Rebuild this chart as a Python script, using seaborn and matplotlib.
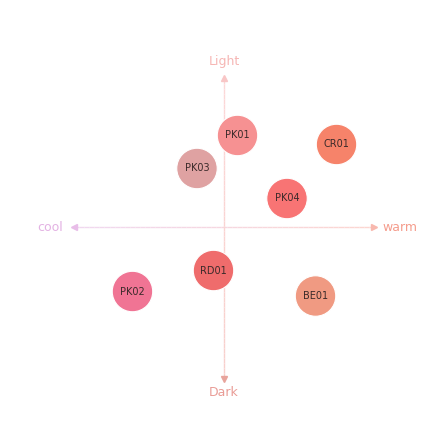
import numpy as np
import pandas as pd
import matplotlib
matplotlib.use("Agg")
import matplotlib.pyplot as plt
import seaborn as sns
from matplotlib.collections import LineCollection
from matplotlib.colors import to_rgb

# shade data: warmth (x) vs lightness (y)
shades = ["PK01", "CR01", "PK03", "PK04", "RD01", "PK02", "BE01"]
warmth = [0.9, 7.5, -1.8, 4.2, -0.7, -6.1, 6.1]
lightness = [6.1, 5.5, 3.9, 1.9, -2.9, -4.3, -4.6]
colors = ["#f69192", "#f6836a", "#dfa2a2", "#f87474", "#ef6c6c", "#f07494", "#f09a82"]

df = pd.DataFrame({"shade": shades, "warmth": warmth, "lightness": lightness})

sns.set_style("white")
plt.rcParams['font.family'] = ['DejaVu Sans']

fig = plt.figure(figsize=(4.3, 4.3), dpi=100)
ax = fig.add_axes([0, 0, 1, 1])


def grad_line(p0, p1, c0, c1, n=60):
    xs = np.linspace(p0[0], p1[0], n)
    ys = np.linspace(p0[1], p1[1], n)
    pts = np.array([xs, ys]).T.reshape(-1, 1, 2)
    segs = np.concatenate([pts[:-1], pts[1:]], axis=1)
    a, b = np.array(to_rgb(c0)), np.array(to_rgb(c1))
    cols = [a + (b - a) * t for t in np.linspace(0, 1, n - 1)]
    ax.add_collection(LineCollection(segs, colors=cols, linewidths=1.0, zorder=1))


# axes with arrows
grad_line((-10.0, 0), (10.0, 0), "#f0d8f0", "#fcd6d0")
grad_line((0, 9.9), (0, -10.1), "#fcd8d8", "#f8d0cc")
ax.plot([-10.0], [0], marker="<", ms=4, color="#e8bde8", zorder=2)
ax.plot([10.0], [0], marker=">", ms=4, color="#f8b8ae", zorder=2)
ax.plot([0], [9.9], marker="^", ms=4, color="#f8c6c6", zorder=2)
ax.plot([0], [-10.1], marker="v", ms=4, color="#e8a49c", zorder=2)

ax.text(0, 11.0, "Light", ha="center", va="center", fontsize=9, color="#f6b6b4")
ax.text(0, -11.0, "Dark", ha="center", va="center", fontsize=9, color="#e99c96")
ax.text(-11.6, 0, "cool", ha="center", va="center", fontsize=9, color="#e3b2e3")
ax.text(11.7, 0, "warm", ha="center", va="center", fontsize=9, color="#f59c8c")

sns.scatterplot(data=df, x="warmth", y="lightness", hue="shade", palette=colors,
                s=850, edgecolor="white", linewidth=0.8, legend=False, ax=ax, zorder=3)
ax.set_xlim(-14.93, 13.73)
ax.set_ylim(-13.53, 15.13)
ax.axis("off")

for name, x, y in zip(shades, warmth, lightness):
    ax.text(x, y, name, ha="center", va="center", fontsize=7, color="#3a2a2a", zorder=4)

fig.savefig("out.png", dpi=100, facecolor="white")
